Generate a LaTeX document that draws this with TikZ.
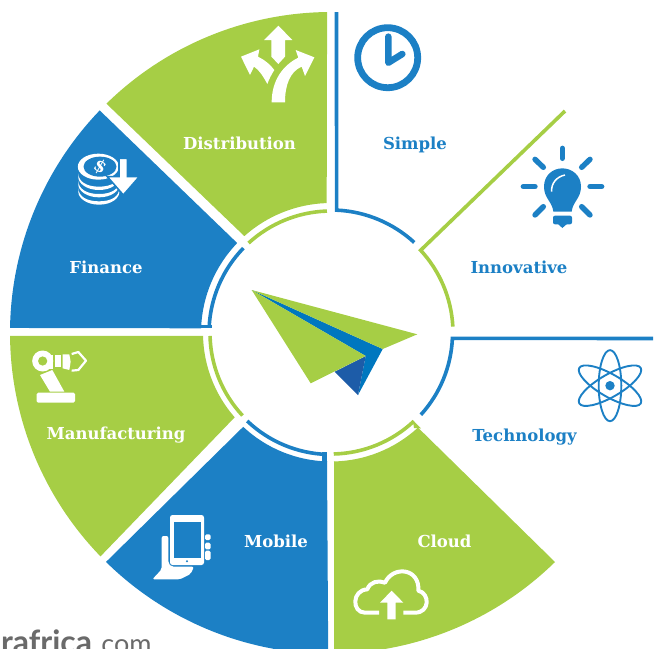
\documentclass[tikz,border=0pt]{standalone}
\usepackage{fontspec}
\setmainfont{Lato}
\newfontfamily\slab{DejaVu Serif}
\definecolor{bl}{HTML}{1C80C5}
\definecolor{gr}{HTML}{A6CE45}
\definecolor{pb}{HTML}{0077BF}
\definecolor{pd}{HTML}{1D5CA8}
\definecolor{gt}{HTML}{6A6A6A}
\newcommand\RA[3]{([shift={(331,333)}]#1:#3pt) arc[start angle=#1,end angle=#2,radius=#3pt]}
\tikzset{
  lab/.style={font=\slab\bfseries\fontsize{16.5}{20}\selectfont,inner sep=0pt,anchor=center},
  wl/.style={lab,text=white},
  bll/.style={lab,text=bl},
  thinarc/.style={line width=3.6pt,line cap=butt},
  ol/.style={line width=3.6pt,line cap=butt,line join=miter},
  zoomA/.style={x=0.33333pt,y=-0.33333pt},
  ray/.style={line width=5.4pt,line cap=round,bl},
}
\begin{document}
\begin{tikzpicture}[x=1pt,y=-1pt]
\useasboundingbox (0,0) rectangle (658,648);
\clip (0,0) rectangle (658,648);
% Distribution
\fill[gr] \RA{90.7}{134.4}{321} -- \RA{131.8}{91.9}{130} -- cycle;
\draw[gr,thinarc] \RA{91.9}{132.5}{122};
% Finance
\fill[bl] \RA{136.1}{179.1}{321} -- (201,328.3) -- \RA{177.9}{136.2}{130} -- cycle;
\draw[bl,thinarc] \RA{135.9}{177.6}{122};
\fill[bl] (201,324.6) rectangle (211.8,328.3);
% Manufacturing
\fill[gr] \RA{180.5}{224.1}{321} -- \RA{221.2}{181.3}{128} -- cycle;
\draw[gr,thinarc] \RA{181.4}{223}{121};
% Mobile
\fill[bl] \RA{225.5}{269.5}{321} -- (327,461) -- \RA{268.4}{226.9}{128.5} -- cycle;
\draw[bl,thinarc] \RA{226.4}{268}{121.5};
\fill[bl] (321.7,451.8) rectangle (327,462);
% Cloud
\fill[gr] (334,660) -- (334,461) -- \RA{271.3}{312.6}{128.5} -- (555,562) arc[start angle=-45.6,end angle=-89.5,radius=321pt] -- cycle;
\draw[gr,thinarc] \RA{271.3}{313.2}{121};
\fill[gr] (412.7,420) -- (421,428.5) -- (414,428) -- cycle;
% outline sectors
\draw[bl,ol] (336.5,12) -- \RA{87.4}{47.4}{123};
\draw[gr,ol] (565,111) -- \RA{42.7}{3}{122};
\draw[bl,ol] (653,338.5) -- \RA{-2.5}{-42.3}{121.5};
% plane
\coordinate (pa) at (251.7,290);
\coordinate (pt) at (417.3,334.3);
\coordinate (pc) at (382.7,349);
\coordinate (pk) at (358,395);
\coordinate (pm) at (365.7,356);
\coordinate (pf) at (334.7,371.7);
\coordinate (pe) at (310.7,383.3);
\fill[pb] (pa) -- (pc) -- (pk) -- (pm) -- cycle;
\fill[pd] (pm) -- (pk) -- (pf) -- cycle;
\fill[gr] (pa) -- (pt) -- (pc) -- cycle;
\fill[gr] (pa) -- (pm) -- (pe) -- cycle;
% labels
\node[wl] (t1) at (239.5,143.5) {Distribution};
\node[bll] (t2) at (415,145) {Simple};
\node[wl] (t3) at (106,267.5) {Finance};
\node[bll] (t4) at (519,267.5) {Innovative};
\node[wl] (t5) at (116,435) {Manufacturing};
\node[bll] (t6) at (524.5,437) {Technology};
\node[wl] (t7) at (276,541) {Mobile};
\node[wl] (t8) at (444.5,541) {Cloud};
\node[anchor=base west,inner sep=0pt,text=gt] (t9) at (1,653) {{\fontsize{32}{34}\selectfont\bfseries rafrica}\hspace{3pt}{\fontsize{27}{30}\selectfont .com}};
% clock
\draw[bl,line width=6.8pt] (387.7,57.7) circle[radius=30pt];
\draw[bl,line width=6.6pt,line cap=round,line join=round] (388.3,36.7) -- (388.3,62.7) -- (402.3,54);
% bulb
\begin{scope}[shift={(500,130)},zoomA]
\draw[ray] (187,55) -- (187,85);
\draw[ray] (70,170) -- (105,170);
\draw[ray] (270,170) -- (305,170);
\draw[ray] (105,88) -- (130,112);
\draw[ray] (270,88) -- (245,112);
\draw[ray] (105,255) -- (130,230);
\draw[ray] (270,255) -- (245,230);
\fill[bl] (160,245) -- (215,245) .. controls (218,215) and (243,205) .. (243,170) .. controls (243,135) and (215,115) .. (187,115) .. controls (159,115) and (132,135) .. (132,170) .. controls (132,205) and (157,215) .. (160,245) -- cycle;
\draw[white,line width=1.5pt] (155,185) .. controls (153,160) and (170,140) .. (195,135);
\fill[bl,rounded corners=2pt] (159,257) -- (216,257) -- (216,283) -- (159,283) -- cycle;
\fill[bl] (172,280) -- (203,280) -- (187,294) -- cycle;
% atom
\coordinate (ac) at (330,767);
\draw[bl,line width=1.9pt] (ac) ellipse[x radius=11.3pt,y radius=35.5pt];
\draw[bl,line width=1.9pt,rotate around={60:(ac)}] (ac) ellipse[x radius=11.3pt,y radius=35.5pt];
\draw[bl,line width=1.9pt,rotate around={-60:(ac)}] (ac) ellipse[x radius=11.3pt,y radius=35.5pt];
\fill[bl] (ac) circle[radius=4.7pt];
\end{scope}
% coins + arrow
\begin{scope}[shift={(20,140)},zoomA]
\foreach \yy in {100,122,144}{
  \fill[white] (175,\yy) .. controls (175,\yy+25) and (200,\yy+40) .. (237,\yy+40) .. controls (275,\yy+40) and (298,\yy+25) .. (298,\yy) -- (298,\yy+12) .. controls (298,\yy+30) and (275,\yy+50) .. (237,\yy+50) .. controls (200,\yy+50) and (175,\yy+30) .. (175,\yy+12) -- cycle;
}
\fill[white] (235,80) ellipse[x radius=20.5pt,y radius=13pt];
\fill[bl] (240,80) ellipse[x radius=16.5pt,y radius=10pt];
\node[text=white,font=\slab\bfseries\fontsize{17}{17}\selectfont,rotate=-30,inner sep=0pt] (dollar) at (240,80) {\$};
\fill[white,draw=bl,line width=1.6pt,line join=miter] (297,55) -- (322,55) -- (322,110) -- (358,110) -- (310,165) -- (262,110) -- (297,110) -- cycle;
\end{scope}
% distribution icon
\begin{scope}[shift={(230,15)},zoomA]
\fill[white] (145,32) -- (187,75) -- (165,75) -- (165,125) -- (145,147) -- (124,125) -- (124,75) -- (102,75) -- cycle;
\fill[white] (125,262) .. controls (125,195) and (160,150) .. (205,128) -- (197,105) -- (253,127) -- (225,183) -- (215,155) .. controls (180,170) and (165,210) .. (165,262) -- cycle;
\fill[white] (33,125) -- (88,103) -- (84,125) .. controls (105,135) and (122,150) .. (133,165) .. controls (125,178) and (118,190) .. (112,207) .. controls (100,185) and (88,165) .. (72,155) -- (60,180) -- cycle;
\end{scope}
% robot
\begin{scope}[shift={(20,340)},zoomA]
\fill[white,rounded corners=1.5pt] (50,158) -- (165,158) -- (165,188) -- (50,188) -- cycle;
\fill[white] (60,105) -- (97,90) -- (133,155) -- (90,155) -- cycle;
\fill[white] (68,63) circle[radius=10.5pt];
\fill[white] (68,45) rectangle (100,88);
\fill[gr] (68,63) circle[radius=4.6pt];
\fill[white] (105,45) rectangle (122,80);
\fill[white] (128,43) -- (148,43) -- (152,65) -- (148,90) -- (128,85) -- cycle;
\draw[white,line width=2.2pt,line join=round] (155,42) -- (175,36) -- (198,62) -- (175,90) -- (155,92);
\end{scope}
% tablet
\begin{scope}[shift={(0,500)},zoomA]
\fill[white,rounded corners=2.5pt] (510,45) -- (612,45) -- (612,195) -- (510,195) -- cycle;
\fill[bl] (522,65) rectangle (602,175);
\fill[bl] (561,184) circle[radius=1.1pt];
\fill[white,rounded corners=2pt] (457,238) -- (485,208) -- (485,108) -- (505,108) -- (505,190) -- (515,200) -- (582,200) -- (572,222) -- (540,238) -- cycle;
\fill[white,rounded corners=1.5pt] (615,103) -- (632,103) -- (632,120) -- (615,120) -- cycle;
\fill[white,rounded corners=1.5pt] (615,128) -- (632,128) -- (632,148) -- (615,148) -- cycle;
\fill[white,rounded corners=1.5pt] (615,152) -- (632,152) -- (632,180) -- (615,180) -- cycle;
\end{scope}
% cloud
\begin{scope}[shift={(340,550)},zoomA]
\draw[white,line width=4pt,line cap=butt,line join=round] (117,188) -- (75,188) .. controls (35,188) and (35,120) .. (82,118) .. controls (90,95) and (115,90) .. (135,98) .. controls (160,45) and (240,55) .. (235,122) .. controls (270,130) and (270,188) .. (225,188) -- (190,188);
\fill[white] (120,158) -- (155,122) -- (190,158) -- (167,158) -- (167,208) -- (142,208) -- (142,158) -- cycle;
\end{scope}
\end{tikzpicture}
\end{document}
